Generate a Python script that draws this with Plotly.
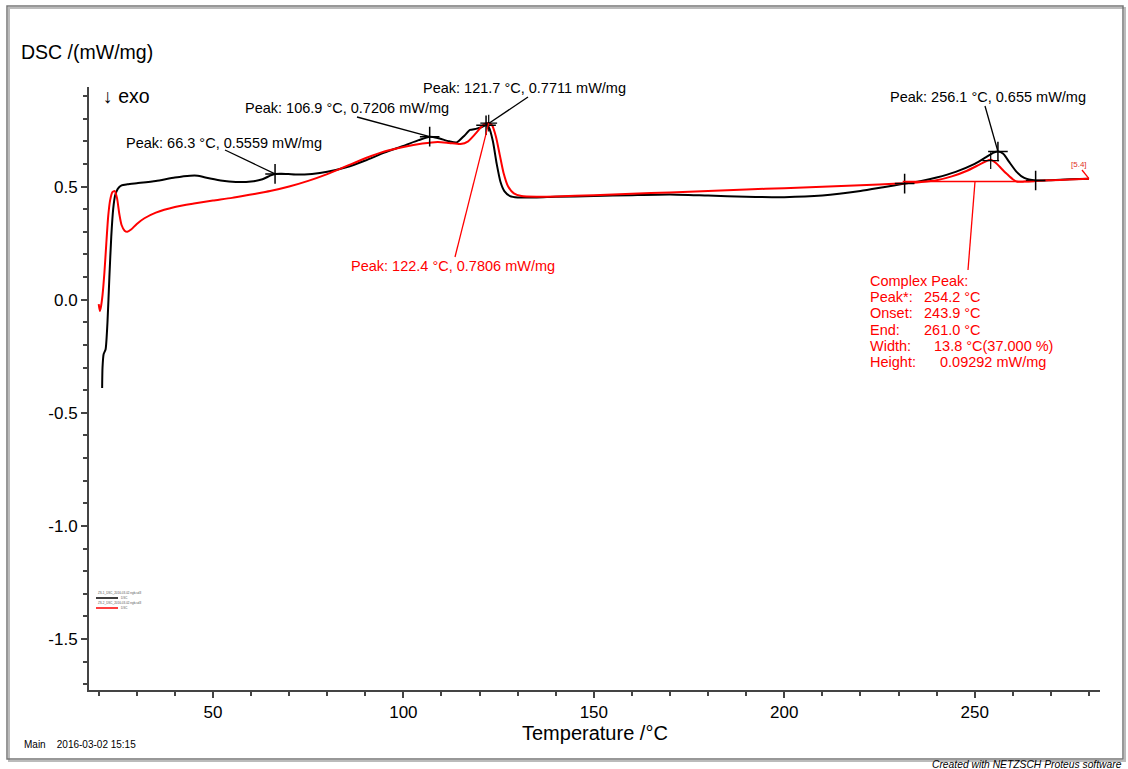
import plotly.graph_objects as go

# ---- measured DSC curves: temperature (°C) and heat flow (mW/mg) ----
temp_black = [20.9, 21.0, 21.3, 21.8, 22.3, 22.8, 23.3, 23.8, 24.3, 25.0, 26.0, 27.5, 30, 35, 40,
              44, 46, 48, 52, 56, 60, 63, 65, 66.3, 68, 72, 76, 80, 85, 90, 95, 100, 104, 106.9,
              109, 112, 114, 116, 117.5, 119, 120.5, 121.7, 122.5, 123.5, 124.5, 125.5, 126.5,
              128, 130, 135, 140, 150, 160, 170, 180, 190, 200, 210, 220, 226, 231.6, 236, 240,
              245, 250, 253, 255, 256.1, 257.5, 259, 261, 263, 266, 270, 275, 280]
dsc_black = [-0.39, -0.30, -0.24, -0.22, -0.10, 0.10, 0.28, 0.40, 0.46, 0.49, 0.505, 0.51, 0.515,
             0.525, 0.54, 0.548, 0.548, 0.54, 0.527, 0.52, 0.522, 0.532, 0.548, 0.5559, 0.557,
             0.553, 0.556, 0.565, 0.585, 0.615, 0.65, 0.68, 0.705, 0.7206, 0.715, 0.70, 0.695,
             0.725, 0.75, 0.755, 0.762, 0.7711, 0.76, 0.70, 0.60, 0.52, 0.48, 0.458, 0.452,
             0.452, 0.455, 0.458, 0.462, 0.465, 0.46, 0.455, 0.453, 0.46, 0.48, 0.497, 0.513,
             0.525, 0.54, 0.565, 0.60, 0.63, 0.65, 0.655, 0.645, 0.61, 0.565, 0.538, 0.527,
             0.528, 0.532, 0.535]

temp_red = [20.0, 20.3, 20.6, 21.0, 21.5, 22.0, 22.5, 23.0, 23.6, 24.2, 24.8, 25.4, 26.0, 26.8,
            27.5, 28.5, 30, 32, 35, 40, 45, 50, 55, 60, 65, 70, 75, 80, 85, 90, 95, 100, 105,
            109, 112, 115, 117, 119, 120.5, 121.5, 122.4, 123.3, 124.3, 125.3, 126.3, 127.5,
            129, 131, 135, 140, 150, 160, 170, 180, 190, 200, 210, 220, 230, 236, 240, 244,
            248, 251, 253, 254.2, 255.5, 257, 258.5, 260, 261, 263, 266, 270, 275, 280]
dsc_red = [-0.02, -0.05, -0.03, 0.02, 0.12, 0.25, 0.37, 0.44, 0.475, 0.48, 0.45, 0.38, 0.33,
           0.305, 0.30, 0.31, 0.335, 0.36, 0.385, 0.41, 0.425, 0.438, 0.45, 0.465, 0.48, 0.50,
           0.525, 0.555, 0.59, 0.625, 0.655, 0.675, 0.69, 0.697, 0.693, 0.688, 0.70, 0.735,
           0.765, 0.778, 0.7806, 0.77, 0.72, 0.64, 0.56, 0.50, 0.47, 0.458, 0.455, 0.456,
           0.462, 0.468, 0.474, 0.48, 0.487, 0.493, 0.499, 0.506, 0.513, 0.52, 0.528, 0.545,
           0.57, 0.595, 0.612, 0.618, 0.605, 0.58, 0.555, 0.532, 0.522, 0.522, 0.525, 0.528,
           0.531, 0.535]

# ---- evaluated peaks ----
peak_t_black = [66.3, 106.9, 121.7, 256.1]
peak_v_black = [0.5559, 0.7206, 0.7711, 0.655]
peak_v_fmt_black = ["0.5559", "0.7206", "0.7711", "0.655"]
limit_t_black = [231.6, 266.0]
limit_v_black = [0.513, 0.527]

peak_t_red = [122.4]
peak_v_red = [0.7806]
peak_v_fmt_red = ["0.7806"]

# complex peak evaluation (red curve)
cp_peak, cp_onset, cp_end = 254.2, 243.9, 261.0
cp_width, cp_width_pct = 13.8, 37.000
cp_height = 0.09292
cp_base_t = [231.1, 265.7]
cp_base_v = [0.522, 0.522]
cp_peak_v = cp_base_v[0] + cp_height

x_ticks = [50, 100, 150, 200, 250]
y_ticks = [-1.5, -1.0, -0.5, 0.0, 0.5]

# ---- page geometry (pixels) ----
W, H = 1128, 769
L, R, T, B = 89, 1100, 87, 690
XR = [17.45, 282.9]
YR = [-1.725, 0.94]

FONT = "Arial, 'Liberation Sans', sans-serif"
RED = "#ff0000"
LABEL_SIZE = 14.5


def dx(px):
    return XR[0] + (px - L) / (R - L) * (XR[1] - XR[0])


def dy(py):
    return YR[1] - (py - T) / (B - T) * (YR[1] - YR[0])


def paper_x(px):
    return (px - L) / (R - L)


def paper_y(py):
    return (B - py) / (B - T)


fig = go.Figure()

fig.add_trace(go.Scatter(x=temp_black, y=dsc_black, mode="lines",
                         line=dict(color="black", width=2, shape="spline", smoothing=0.6),
                         hoverinfo="skip", showlegend=False))
fig.add_trace(go.Scatter(x=temp_red, y=dsc_red, mode="lines",
                         line=dict(color=RED, width=2, shape="spline", smoothing=0.6),
                         hoverinfo="skip", showlegend=False))

shapes = []
annotations = []


def leader(x0, y0, x1, y1, color):
    shapes.append(dict(type="line", xref="x", yref="y", x0=x0, y0=y0, x1=x1, y1=y1,
                       line=dict(color=color, width=1.3)))


def label(px, py, text, color="black", size=LABEL_SIZE, xanchor="left"):
    annotations.append(dict(x=dx(px), y=dy(py), xref="x", yref="y", text=text,
                            showarrow=False, xanchor=xanchor, yanchor="middle",
                            font=dict(family=FONT, size=size, color=color)))


# black peak labels: (text left/mid px, leader start px)
black_label_pos = [((124, 143), (225, 150)),
                   ((243, 108), (357, 117)),
                   ((421, 88), (528, 97)),
                   ((888, 97), (985, 106))]
for (t, v, vf, (tp, lp)) in zip(peak_t_black, peak_v_black, peak_v_fmt_black, black_label_pos):
    label(tp[0], tp[1], f"Peak: {t} °C, {vf} mW/mg")
    leader(dx(lp[0]), dy(lp[1]), t, v, "black")

# red peak label
for t, v, vf in zip(peak_t_red, peak_v_red, peak_v_fmt_red):
    label(349, 266, f"Peak: {t} °C, {vf} mW/mg", color=RED)
    leader(dx(455), dy(257), t, v, RED)

# complex peak baseline and report
shapes.append(dict(type="line", xref="x", yref="y", x0=cp_base_t[0], y0=cp_base_v[0],
                   x1=cp_base_t[1], y1=cp_base_v[1], line=dict(color=RED, width=1.5)))
leader(dx(968), dy(270), dx(975), cp_base_v[0], RED)
cp_rows = [("Complex Peak:", ""),
           ("Peak*:", f"{cp_peak:.1f} °C"),
           ("Onset:", f"{cp_onset:.1f} °C"),
           ("End:", f"{cp_end:.1f} °C"),
           ("Width:", f"{cp_width:.1f} °C({cp_width_pct:.3f} %)"),
           ("Height:", f"{cp_height:.5f} mW/mg")]
value_px = [0, 922, 922, 922, 932, 938]
for i, (k, v) in enumerate(cp_rows):
    py = 281 + i * 16.2
    label(868, py, k, color=RED)
    if v:
        label(value_px[i], py, v, color=RED)

# segment marker at the curve end
annotations.append(dict(x=dx(1079), y=dy(164), xref="x", yref="y", text="[5.4]",
                        showarrow=False, xanchor="center", yanchor="middle",
                        font=dict(family=FONT, size=8, color="#e0301e")))
leader(dx(1082), dy(170), temp_red[-1], dsc_red[-1], RED)

# peak cross markers
fig.add_trace(go.Scatter(x=peak_t_black + limit_t_black, y=peak_v_black + limit_v_black,
                         mode="markers", hoverinfo="skip", showlegend=False,
                         marker=dict(symbol="cross-thin", size=14, color="black",
                                     line=dict(color="black", width=1.5))))
fig.add_trace(go.Scatter(x=peak_t_red + [cp_peak], y=peak_v_red + [cp_peak_v],
                         mode="markers", hoverinfo="skip", showlegend=False,
                         marker=dict(symbol="cross-thin", size=12, color="black",
                                     line=dict(color="black", width=1.2))))

# tiny curve key
for i, (col, name) in enumerate([("black", "ZS-1_DSC_2016-03-02.ngb-sd3"),
                                 (RED, "ZS-2_DSC_2016-03-02.ngb-sd3")]):
    y0 = 593 + i * 10
    annotations.append(dict(x=paper_x(96), y=paper_y(y0), xref="paper", yref="paper",
                            text=name, showarrow=False, xanchor="left", yanchor="middle",
                            font=dict(family=FONT, size=3, color="#555")))
    shapes.append(dict(type="line", xref="paper", yref="paper",
                       x0=paper_x(96), x1=paper_x(118), y0=paper_y(y0 + 5), y1=paper_y(y0 + 5),
                       line=dict(color=col, width=1.5)))
    annotations.append(dict(x=paper_x(119), y=paper_y(y0 + 5), xref="paper", yref="paper",
                            text="DSC", showarrow=False, xanchor="left", yanchor="middle",
                            font=dict(family=FONT, size=3, color="#555")))

# page texts
annotations += [
    dict(x=paper_x(19), y=paper_y(52), xref="paper", yref="paper", text="DSC /(mW/mg)",
         showarrow=False, xanchor="left", yanchor="middle",
         font=dict(family=FONT, size=19.5, color="black")),
    dict(x=paper_x(101), y=paper_y(96), xref="paper", yref="paper", text="↓ exo",
         showarrow=False, xanchor="left", yanchor="middle",
         font=dict(family=FONT, size=19.5, color="black")),
    dict(x=paper_x(595), y=paper_y(733), xref="paper", yref="paper", text="Temperature /°C",
         showarrow=False, xanchor="center", yanchor="middle",
         font=dict(family=FONT, size=20, color="black")),
    dict(x=paper_x(22), y=paper_y(744), xref="paper", yref="paper",
         text="Main\u00a0\u00a0\u00a0\u00a02016-03-02 15:15",
         showarrow=False, xanchor="left", yanchor="middle",
         font=dict(family=FONT, size=10, color="black")),
    dict(x=paper_x(1124), y=paper_y(764), xref="paper", yref="paper",
         text="<i>Created with NETZSCH Proteus software</i>",
         showarrow=False, xanchor="right", yanchor="middle",
         font=dict(family=FONT, size=10.3, color="black")),
]

# outer page frame with soft shadow
shapes.append(dict(type="rect", xref="paper", yref="paper",
                   x0=paper_x(9), x1=paper_x(1125), y0=paper_y(8), y1=paper_y(761),
                   line=dict(color="#bbbbbb", width=2), layer="below"))
shapes.append(dict(type="rect", xref="paper", yref="paper",
                   x0=paper_x(7), x1=paper_x(1123), y0=paper_y(6), y1=paper_y(759),
                   line=dict(color="#777777", width=1.5), layer="below"))

axis_common = dict(showgrid=False, zeroline=False, showline=True, linecolor="#444",
                   linewidth=2, ticks="outside", ticklen=6, tickwidth=1.5, tickcolor="#444",
                   tickfont=dict(family=FONT, size=17, color="black"), mirror=False)

fig.update_xaxes(range=XR, tickvals=x_ticks, ticktext=[str(v) for v in x_ticks],
                 ticklabelstandoff=0,
                 minor=dict(dtick=10, tick0=0, ticklen=4, tickcolor="#444", tickwidth=1.5,
                            ticks="outside"),
                 **axis_common)
fig.update_yaxes(range=YR, tickvals=y_ticks, ticktext=[f"{v:.1f}" for v in y_ticks],
                 minor=dict(dtick=0.1, tick0=0, ticklen=4, tickcolor="#444", tickwidth=1.5,
                            ticks="outside"),
                 **axis_common)

fig.update_layout(width=W, height=H, autosize=False,
                  margin=dict(l=L, r=W - R, t=T, b=H - B, pad=0),
                  paper_bgcolor="white", plot_bgcolor="white",
                  shapes=shapes, annotations=annotations, showlegend=False)

fig.write_html("out.html", config={"displayModeBar": False})
